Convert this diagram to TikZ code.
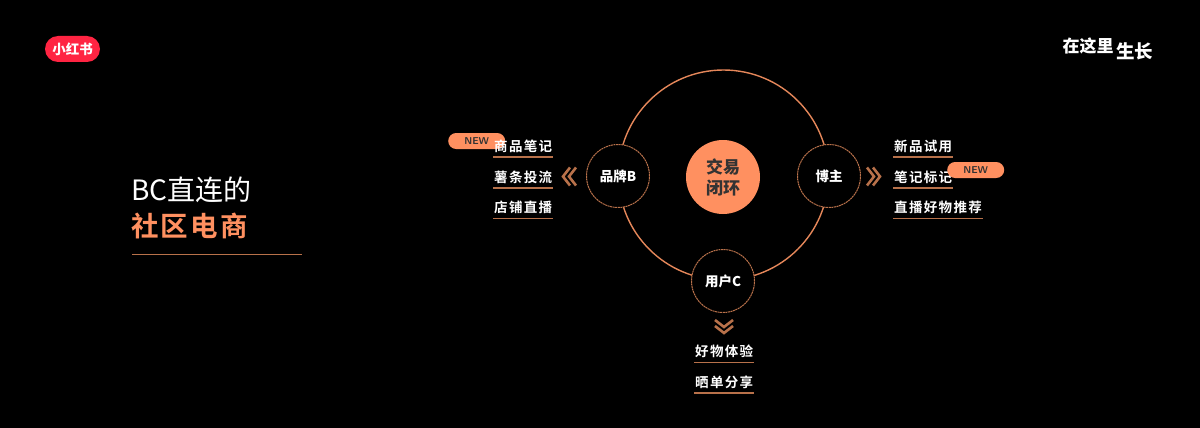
\documentclass[tikz,border=0pt]{standalone}
\usepackage{fontspec}
\setmainfont{Noto Sans CJK SC}
\newfontfamily\itemfont[LetterSpace=10,BoldFont={* Bold}]{Noto Sans CJK SC}
\newfontfamily\headfont[LetterSpace=8,BoldFont={* Bold}]{Noto Sans CJK SC}
\definecolor{pillorange}{HTML}{FF9060}
\definecolor{ringorange}{HTML}{E5875A}
\definecolor{lineorange}{HTML}{B8714A}
\definecolor{logored}{HTML}{FF2442}
\tikzset{
  role/.style={circle,draw=lineorange,fill=black,line width=1pt,dash pattern=on 2pt off 0.6pt,minimum size=63pt,inner sep=0pt,text=white,font=\bfseries\fontsize{13.5}{13.5}\selectfont},
  item/.style={text=white,font=\itemfont\bfseries\fontsize{13.5}{13.5}\selectfont,anchor=west,inner xsep=1pt,inner ysep=4pt,text height=12pt,text depth=2pt},
  itemline/.style={draw=lineorange,line width=1.5pt},
  newpill/.style={fill=pillorange,rounded corners=8pt,minimum width=57pt,minimum height=16pt,inner sep=0pt,text=black!80,font=\sffamily\bfseries\fontsize{10}{10}\selectfont},
  chevron/.style={draw=lineorange,line width=2.6pt,miter limit=4},
}
\begin{document}
\begin{tikzpicture}[x=1pt,y=-1pt]
\fill[black] (0,0) rectangle (1200,428);
\useasboundingbox (0,0) rectangle (1200,428);
% header
\node[fill=logored,rounded corners=13pt,minimum width=55pt,minimum height=26pt,inner sep=0pt,text=white,font=\bfseries\fontsize{13.5}{13.5}\selectfont] (logo) at (72.5,49) {小红书};
\node[text=white,font=\bfseries\fontsize{17}{17}\selectfont,inner sep=0pt] (slogana) at (1088,46) {在这里};
\node[text=white,font=\bfseries\fontsize{18.5}{18.5}\selectfont,inner sep=0pt] (sloganb) at (1134.5,51) {生长};
% title
\node[text=white,font=\fontsize{28}{28}\selectfont,anchor=west,inner sep=0pt] (titlea) at (131,190) {BC直连的};
\node[text=pillorange,font=\headfont\bfseries\fontsize{27.5}{27.5}\selectfont,anchor=west,inner sep=0pt] (titleb) at (131,226) {社区电商};
\coordinate (rulea) at (132,254.5);
\coordinate (ruleb) at (302,254.5);
\draw[itemline] (rulea) -- (ruleb);
% ring
\coordinate (ringc) at (723.5,175);
\draw[ringorange,line width=1.4pt] (ringc) circle[radius=105pt];
\node[circle,fill=pillorange,minimum size=74pt,inner sep=0pt,align=center,text=black!80,font=\bfseries\fontsize{17}{21}\selectfont] (deal) at (723,177) {交易\\闭环};
\node[role] (brand) at (618,176) {品牌B};
\node[role] (blogger) at (829,176) {博主};
\node[role] (user) at (723,281) {用户C};
% chevrons
\foreach \dx in {0,6}
{
  \draw[chevron] (570+\dx,167.5) -- (563+\dx,176.5) -- (570+\dx,185.5);
  \draw[chevron] (867+\dx,167.5) -- (874+\dx,176.5) -- (867+\dx,185.5);
}
\foreach \dy in {0,6}
{
  \draw[chevron] (715,320+\dy) -- (724,327+\dy) -- (733,320+\dy);
}
% items
\node[newpill,anchor=west] (newa) at (448,141) {NEW};
\foreach \nm/\x/\y/\txt in {goods/493/146/商品笔记, chips/493/177/薯条投流, shop/493/207.5/店铺直播,
  trial/893/146/新品试用, note/893/177/笔记标记, live/893/207.5/直播好物推荐,
  feel/694/351.5/好物体验, show/694/382/晒单分享}
{
  \node[item] (\nm) at (\x,\y) {\txt};
  \draw[itemline] (\nm.south west) -- (\nm.south east);
}
\node[newpill,anchor=west] (newb) at (947,170) {NEW};
\end{tikzpicture}
\end{document}
